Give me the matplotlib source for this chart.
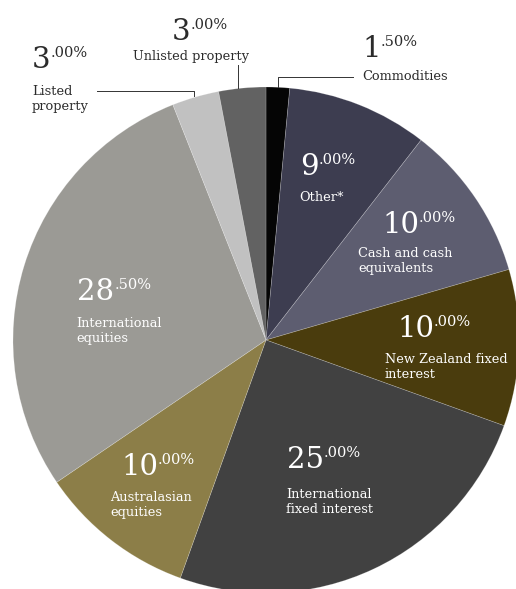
import matplotlib
matplotlib.use("Agg")
import matplotlib.pyplot as plt

# ---- data ----
categories = ["Commodities", "Other*", "Cash and cash\nequivalents",
              "New Zealand fixed\ninterest", "International\nfixed interest",
              "Australasian\nequities", "International\nequities",
              "Listed\nproperty", "Unlisted property"]
values = [1.5, 9.0, 10.0, 10.0, 25.0, 10.0, 28.5, 3.0, 3.0]

# ---- style ----
colors = ["#050505", "#3d3d50", "#5d5d70", "#4a3c0d", "#414141",
          "#8c7e48", "#9b9a95", "#c1c1c1", "#626262"]
W, H = 516, 589
FONT = "DejaVu Serif"

# label placement in image pixel coords: (x, digit baseline y, first label line baseline y, colour)
label_pos = [
    (362, 57, 80, "#2b2b2b"),
    (300, 175, 201, "white"),
    (382, 233, 257, "white"),
    (397, 337, 363, "white"),
    (287, 468, 498, "white"),
    (121, 475, 501, "white"),
    (77, 300, 327, "white"),
    (32, 68, 95, "#2b2b2b"),
    (172, 40, 60, "#2b2b2b"),
]
label_dx = [0, -1, -24, -12, -1, -11, -1, 0, -39]

fig = plt.figure(figsize=(W / 100, H / 100), dpi=100)
ax = fig.add_axes([0, 0, 1, 1])
ax.pie(values, colors=colors, startangle=90, counterclock=False,
       center=(266, H - 340), radius=253,
       wedgeprops=dict(linewidth=0.5, edgecolor=(1, 1, 1, 0.25)))
ax.set_xlim(0, W)
ax.set_ylim(0, H)
ax.set_aspect("equal")
ax.axis("off")


def Y(y):
    return H - y


BIG, SUP = 21, 10.5
sup_rise = 0.729 * (BIG - SUP)  # points: align top of superscript digits with big digits

for cat, v, (x, yb, yl, col), dx in zip(categories, values, label_pos, label_dx):
    ip, dp = f"{v:.2f}".split(".")
    big = ax.text(x, Y(yb), ip, fontsize=BIG, family=FONT, color=col,
                  ha="left", va="baseline")
    ax.annotate("." + dp + "%", xy=(1, Y(yb)), xycoords=(big, "data"),
                xytext=(0.0, sup_rise), textcoords="offset points",
                fontsize=SUP, family=FONT, color=col, ha="left", va="baseline")
    for i, line in enumerate(cat.split("\n")):
        ax.text(x + dx, Y(yl + 15 * i), line, fontsize=9.3, family=FONT,
                color=col, ha="left", va="baseline")

# leader lines
lc = dict(color="#333333", lw=0.7)
ax.plot([278, 278, 353], [Y(87), Y(76.5), Y(76.5)], **lc)
ax.plot([238, 238], [Y(65), Y(88)], **lc)
ax.plot([97, 194, 194], [Y(90.5), Y(90.5), Y(96)], **lc)

fig.savefig("out.png", dpi=100, facecolor="white")
